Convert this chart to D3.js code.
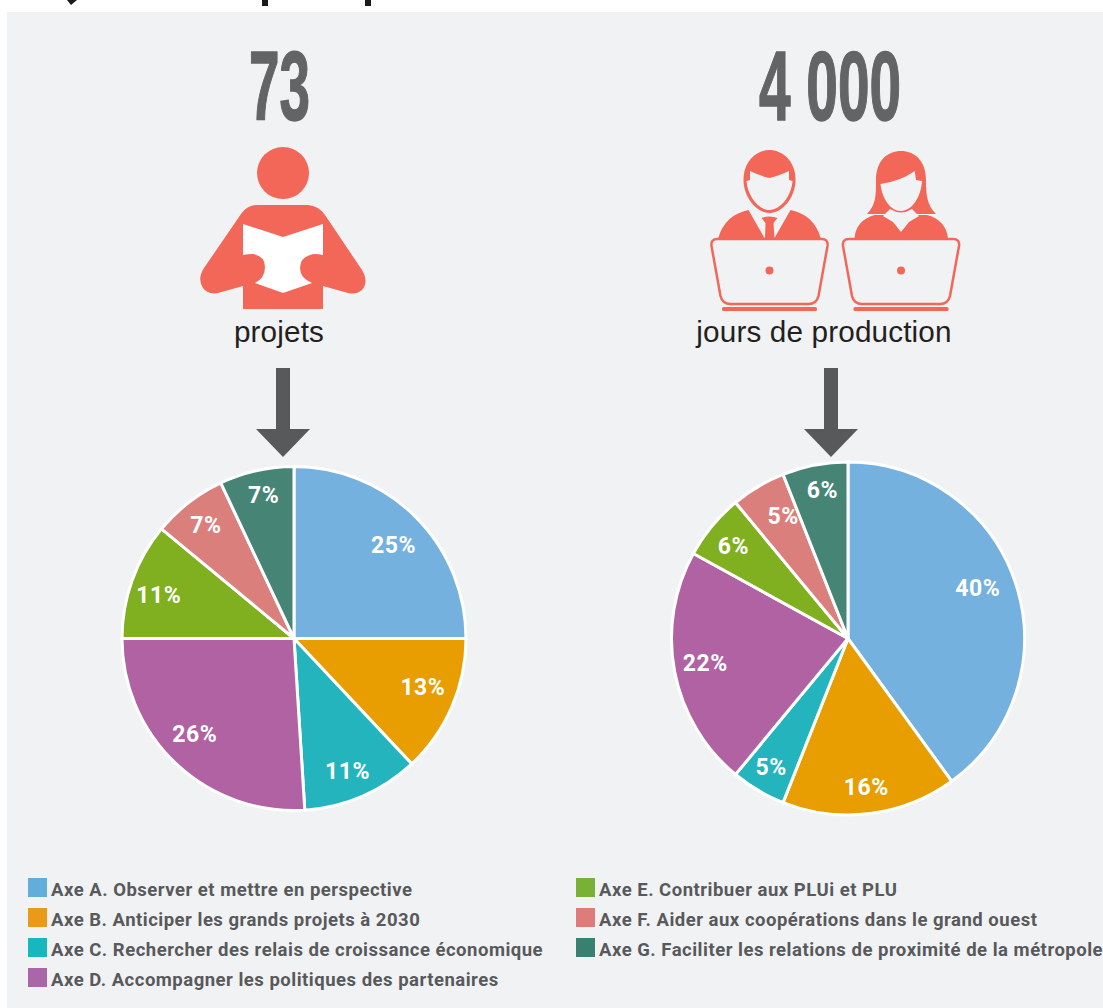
<!DOCTYPE html>
<html>
<head>
<meta charset="utf-8">
<script src="https://cdn.jsdelivr.net/npm/d3@7"></script>
<style>
  html, body { margin: 0; padding: 0; background: #fff; overflow: hidden; }
  svg { display: block; }
</style>
</head>
<body>
<div id="chart"></div>
<script>
// data
const axes = [
    "Axe A. Observer et mettre en perspective",
    "Axe B. Anticiper les grands projets à 2030",
    "Axe C. Rechercher des relais de croissance économique",
    "Axe D. Accompagner les politiques des partenaires",
    "Axe E. Contribuer aux PLUi et PLU",
    "Axe F. Aider aux coopérations dans le grand ouest",
    "Axe G. Faciliter les relations de proximité de la métropole"
];
const projets = [25, 13, 11, 26, 11, 7, 7];
const jours = [40, 16, 5, 22, 6, 5, 6];
const pieColors = ["#75b1df", "#e89e00", "#24b4bd", "#b062a3", "#80af20", "#db7f7d", "#468575"];
const legendColors = ["#62add9", "#e99a17", "#17b8bd", "#a966a8", "#78b135", "#de7b7b", "#388171"];

const width = 1103, height = 1008;
const panelColor = "#f1f2f4";
const coral = "#f36759";

const svg = d3.select("#chart")
    .append("svg")
    .attr("width", width)
    .attr("height", height);

// panel, and the bottom of the cut off title above it
svg.append("rect")
    .attr("x", 7).attr("y", 12)
    .attr("width", width - 7).attr("height", height - 12)
    .attr("fill", panelColor);
svg.append("path")
    .attr("d", "M67,0 L77,0 L71,5 Z M262,0 H268 V6 H262 Z M365,0 H371 V6 H365 Z")
    .attr("fill", "#1a1a1a");

// big figures and captions
function header(cx, figure, figureWidth, captionX, caption) {
    svg.append("text")
        .attr("x", cx).attr("y", 120)
        .attr("text-anchor", "middle")
        .attr("textLength", figureWidth)
        .attr("lengthAdjust", "spacingAndGlyphs")
        .style("font-family", "'Liberation Sans Narrow', 'Liberation Sans', sans-serif")
        .style("font-weight", 700)
        .style("font-size", "98px")
        .attr("fill", "#636466")
        .attr("stroke", "#636466")
        .attr("stroke-width", 1.5)
        .text(figure);
    svg.append("text")
        .attr("x", captionX).attr("y", 342)
        .attr("text-anchor", "middle")
        .style("font-family", "'Liberation Sans', sans-serif")
        .style("font-size", "29.7px")
        .style("letter-spacing", "0.15px")
        .attr("fill", "#231f20")
        .text(caption);
}
header(279.5, "73", 61, 279, "projets");
header(830, "4 000", 142, 824, "jours de production");

// reader icon
const reader = svg.append("g");
reader.append("circle").attr("cx", 283).attr("cy", 173).attr("r", 26).attr("fill", coral);
reader.append("path")
    .attr("d", "M257,205 L308,205 Q319,206 325,215 L362,270 Q369,282 362,290 Q356,295 348,293 L323,286 L323,309 L243,309 L243,286 L218,293 Q208,295 203,288 Q197,279 204,268 L241,214 Q247,205 257,205 Z")
    .attr("fill", coral);
reader.append("path")
    .attr("d", "M243,224 L283,237 L323,224 L323,255 Q314,253 310,255 Q300,258 300,268 Q300,278 312,283 L283,293 L255,283 Q265,278 265,267 Q265,256 253,254 Q247,254 243,255 Z")
    .attr("fill", "#fff");

// people at their laptops
function laptop(g) {
    g.append("path")
        .attr("d", "M-52,239 L52,239 Q59,239 58,246 L49,296 Q47,304 39,304 L-39,304 Q-47,304 -49,296 L-58,246 Q-59,239 -52,239 Z")
        .attr("fill", panelColor)
        .attr("stroke", coral)
        .attr("stroke-width", 2.5);
    g.append("rect")
        .attr("x", -47.5).attr("y", 307)
        .attr("width", 95).attr("height", 4).attr("rx", 1.5)
        .attr("fill", coral);
    g.append("circle").attr("cx", 0).attr("cy", 270.5).attr("r", 4).attr("fill", coral);
}

const man = svg.append("g").attr("transform", "translate(769.5,0)");
man.append("path")
    .attr("d", "M-26,180 C-26,160 -12,150 0,150 C12,150 26,160 26,180 C26,197 13,213 0,213 C-13,213 -26,197 -26,180 Z")
    .attr("fill", coral);
man.append("path")
    .attr("d", "M-19.5,171 Q-9,176 0,178 Q9,176 19.5,171 L19.5,180 L23,181 C22,196 11,210 0,210 C-11,210 -22,196 -23,181 L-19.5,180 Z")
    .attr("fill", panelColor);
man.append("path")
    .attr("d", "M-51.5,239 C-47,222 -36,213 -21,210 L-5,238 Z M51.5,239 C47,222 36,213 21,210 L5,238 Z M-8,218 Q0,215 8,218 L4,223 L5,238 L-4.5,238 L-4,223 Z")
    .attr("fill", coral);
laptop(man);

const woman = svg.append("g").attr("transform", "translate(901,0)");
woman.append("path")
    .attr("d", "M-25,180 C-25,160 -13,151 0,151 C13,151 25,160 25,180 C25,195 26,205 35,214 L-34,214 C-25,205 -25,195 -25,180 Z")
    .attr("fill", coral);
woman.append("path")
    .attr("d", "M-46.5,239 C-46,226 -38,218 -26,215 L26,215 C38,218 46,226 47,239 Z")
    .attr("fill", coral);
woman.append("path")
    .attr("d", "M-18,216 L-11,209 Q0,216 11,209 L18,216 L8,222 L0,232 L-8,222 Z")
    .attr("fill", panelColor);
woman.append("path")
    .attr("d", "M-20.5,184 Q0,181 13.7,171 L15,180 L21,181 C20,197 11,211 0,211 C-11,211 -19,198 -20.5,184 Z")
    .attr("fill", panelColor);
laptop(woman);

// arrows
[283, 831].forEach(function (cx) {
    svg.append("path")
        .attr("d", `M${cx - 7},368 H${cx + 7} V429 H${cx + 27} L${cx},457 L${cx - 27},429 H${cx - 7} Z`)
        .attr("fill", "#58595b");
});

// pies
const color = d3.scaleOrdinal().domain(axes).range(pieColors);
const pie = d3.pie().sort(null).value(function (d) { return d; });

// labels are not quite on the slice middles in the original, hence a radius and a small turn (degrees) per label
function drawPie(values, cx, cy, radius, labelRadius, labelTurn) {
    const g = svg.append("g").attr("transform", `translate(${cx}, ${cy})`);
    const arcGenerator = d3.arc().innerRadius(0).outerRadius(radius);
    const slices = pie(values);

    g.selectAll("path")
        .data(slices)
        .join("path")
        .attr("d", arcGenerator)
        .attr("fill", function (d) { return color(axes[d.index]); })
        .attr("stroke", "#fff")
        .attr("stroke-width", 3);

    g.selectAll("text")
        .data(slices)
        .join("text")
        .text(function (d) { return d.data + "%"; })
        .attr("transform", function (d) {
            const r = labelRadius[d.index];
            const turn = labelTurn[d.index] * Math.PI / 180;
            const centroid = d3.arc().innerRadius(r).outerRadius(r)
                .startAngle(d.startAngle + turn).endAngle(d.endAngle + turn)
                .centroid();
            return `translate(${centroid})`;
        })
        .attr("text-anchor", "middle")
        .attr("dominant-baseline", "central")
        .style("font-family", "Roboto, sans-serif")
        .style("font-weight", 700)
        .style("font-size", "23px")
        .style("letter-spacing", "0.5px")
        .attr("fill", "#fff");
}
drawPie(projets, 294, 638.5, 172, [136, 138, 143, 138, 142, 143, 146], [2, -2.4, 1.4, 2.8, -2.1, -0.2, 0.6]);
drawPie(jours, 848, 638.5, 176.5, [139, 150, 150, 145, 147, 138, 150], [-3, 0.2, 0.2, 0.8, -0.9, 2.6, 1]);

// legend
const legendX = [28, 576];
const legendRows = [0, 1, 2, 3, 0, 1, 2];
const legend = svg.selectAll(".legend")
    .data(axes)
    .join("g")
    .attr("class", "legend")
    .attr("transform", function (d, i) {
        return `translate(${legendX[i < 4 ? 0 : 1]}, ${878 + legendRows[i] * 30})`;
    });
legend.append("rect")
    .attr("width", 19)
    .attr("height", 19)
    .attr("fill", function (d, i) { return legendColors[i]; });
legend.append("text")
    .attr("x", 23)
    .attr("y", 18)
    .style("font-family", "Roboto, sans-serif")
    .style("font-weight", 700)
    .style("font-size", "18.5px")
    .style("letter-spacing", "0.5px")
    .attr("fill", "#58595b")
    .text(function (d) { return d; });
</script>
</body>
</html>
